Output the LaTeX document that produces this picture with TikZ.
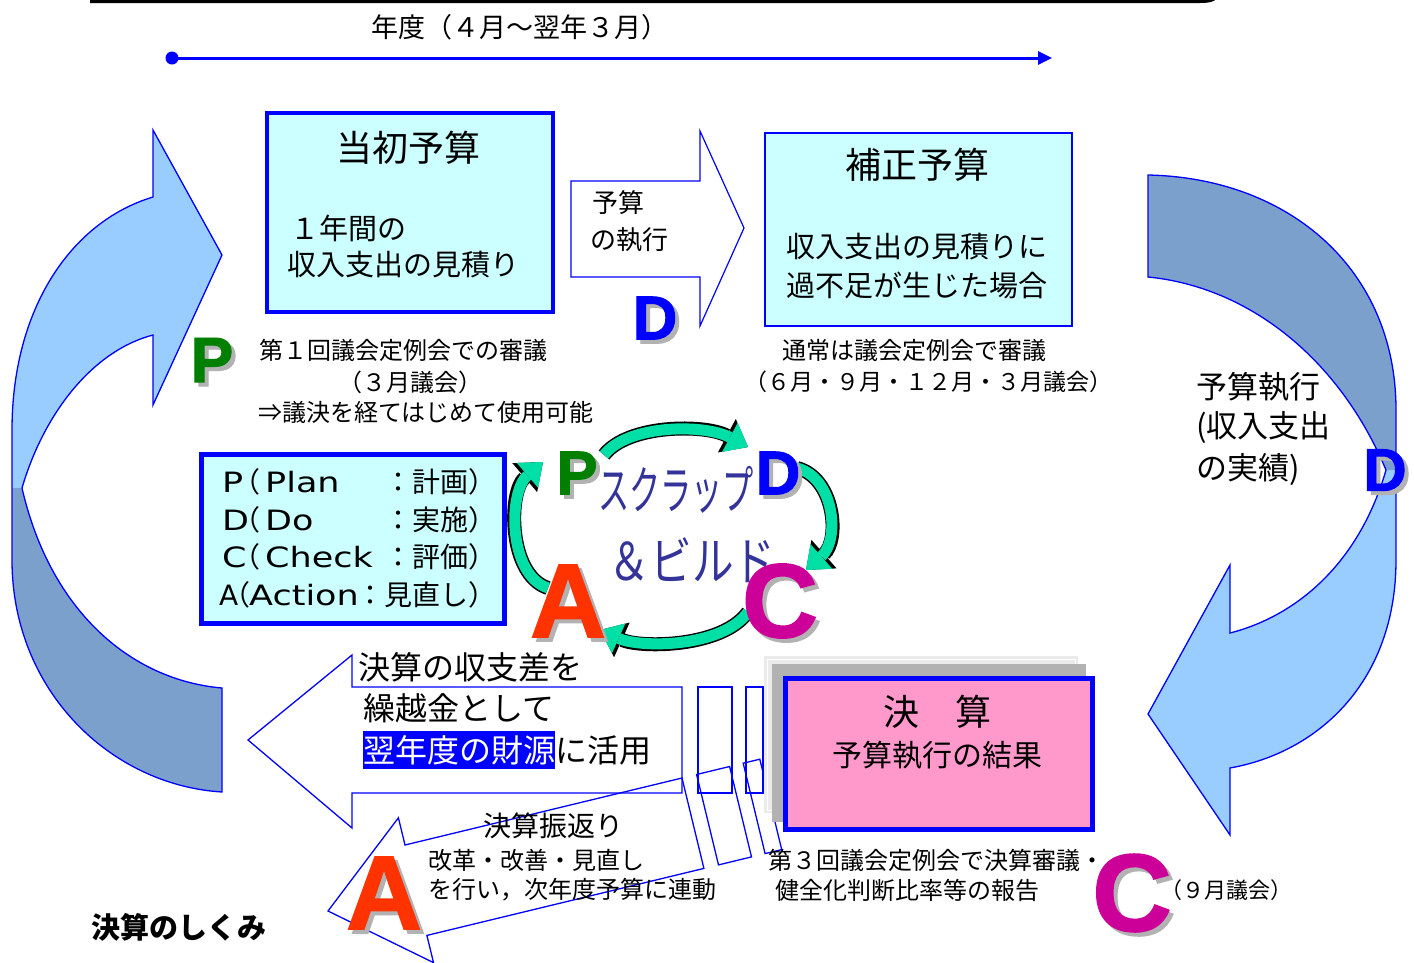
\documentclass[tikz,border=0pt]{standalone}
\usepackage{fontspec}
\setmainfont{Noto Sans CJK JP}
\newfontfamily\latb{Liberation Sans}[BoldFeatures={FakeBold=1.5}]
\newfontfamily\djv{DejaVu Sans}
\usetikzlibrary{arrows.meta,calc}
\definecolor{boxcyan}{HTML}{CCFFFF}
\definecolor{arrlight}{HTML}{99CCFF}
\definecolor{arrdark}{HTML}{7BA0CB}
\definecolor{boxpink}{HTML}{FF99CC}
\definecolor{pgreen}{HTML}{007F00}
\definecolor{dblue}{HTML}{0000FF}
\definecolor{cmag}{HTML}{CC0099}
\definecolor{ared}{HTML}{FF3300}
\definecolor{cycg}{HTML}{00E0A6}
\definecolor{sbpurple}{HTML}{333399}
\tikzset{
  fs/.style={font=\fontsize{#1}{#1}\selectfont},
  txt/.style={inner sep=0pt, anchor=west},
  ctxt/.style={inner sep=0pt},
  bigl/.style 2 args={inner sep=0pt, font=\latb\bfseries\fontsize{#1}{#1}\selectfont, text=#2},
  edge/.style={draw=dblue, line width=1.3pt},
  boxthick/.style={draw=dblue, line width=#1, fill=boxcyan, anchor=north west, inner sep=0pt},
}
\newcommand\bigletter[6]{%
  \node[bigl={#4}{#5}] (#1) at (#2,#3) {\makebox[0pt][l]{\hspace{4pt}\raisebox{-4pt}{\color{black!30}#6}}#6};
}
\newcommand\cycarrow[1]{%
  \draw[line width=14pt, black, -{Triangle[length=24pt,width=38pt,line width=0pt]}] #1;
  \draw[line width=11pt, cycg, -{Triangle[length=20.5pt,width=33pt,line width=0pt]}] #1;
}
\newcommand\wide[1]{\scalebox{1.25}[1]{\djv #1}}
\begin{document}
\begin{tikzpicture}[x=1pt,y=-1pt]
\useasboundingbox (0,0) rectangle (1414,962);
\fill[white] (0,0) rectangle (1414,962);

% top line and timeline
\draw[line width=3pt] (90,1.5) -- (1200,1.5) .. controls (1210,1.5) and (1214,0) .. (1216,-3);
\node[ctxt, fs=27] (year) at (520,27) {年度（４月～翌年３月）};
\node[circle, fill=dblue, minimum size=13pt, inner sep=0pt] (tstart) at (172,58) {};
\coordinate (tend) at (1052,58);
\draw[dblue, line width=3pt, -{Triangle[length=14pt,width=13pt]}] (tstart.center) -- (tend);

% left curved arrow
\fill[arrlight] (153,197) -- (153,130) -- (222,255) -- (153,405) -- (153,335) .. controls (95,350) and (45,410) .. (22,488) -- (12,488) -- (12,430) .. controls (12,310) and (70,222) .. (153,197) -- cycle;
\fill[arrdark] (12,488) -- (12,560) .. controls (12,690) and (110,785) .. (222,792) -- (222,688) .. controls (130,680) and (50,610) .. (22,488) -- cycle;
\draw[edge] (153,197) -- (153,130) -- (222,255) -- (153,405) -- (153,335) .. controls (95,350) and (45,410) .. (22,488) .. controls (50,610) and (130,680) .. (222,688) -- (222,792) .. controls (110,785) and (12,690) .. (12,560) -- (12,430) .. controls (12,310) and (70,222) .. (153,197) -- cycle;

% right curved arrow
\fill[arrlight] (1386,470) -- (1396,470) -- (1396,560) .. controls (1396,680) and (1320,752) .. (1230,768) -- (1230,835) -- (1148,714) -- (1230,565) -- (1230,633) .. controls (1300,615) and (1360,560) .. (1386,470) -- cycle;
\fill[arrdark] (1148,175) .. controls (1290,178) and (1396,270) .. (1396,410) -- (1396,470) -- (1386,470) .. controls (1340,360) and (1250,287) .. (1148,277) -- cycle;
\draw[edge] (1148,175) .. controls (1290,178) and (1396,270) .. (1396,410) -- (1396,560) .. controls (1396,680) and (1320,752) .. (1230,768) -- (1230,835) -- (1148,714) -- (1230,565) -- (1230,633) .. controls (1300,615) and (1360,560) .. (1386,470) .. controls (1340,360) and (1250,287) .. (1148,277) -- cycle;

% box: initial budget
\node[boxthick=4pt, minimum width=286pt, minimum height=199pt] (tosho) at (265,111) {};
\node[ctxt, fs=36] (toshoT) at (408,148) {当初予算};
\node[txt, fs=29] (tosho1) at (290,228) {１年間の};
\node[txt, fs=29] (tosho2) at (287,265) {収入支出の見積り};

% block arrow: execution
\draw[edge, line width=1.2pt, fill=white] (571,181) -- (700,181) -- (700,131) -- (744,228) -- (700,326) -- (700,277) -- (571,277) -- cycle;
\node[txt, fs=26] (exec1) at (592,203) {予算};
\node[txt, fs=26] (exec2) at (590,240) {の執行};

% box: supplementary budget
\node[boxthick=2pt, minimum width=307pt, minimum height=193pt] (hosei) at (764,132) {};
\node[ctxt, fs=36] (hoseiT) at (917,165) {補正予算};
\node[ctxt, fs=29] (hosei1) at (917,247) {収入支出の見積りに};
\node[ctxt, fs=29] (hosei2) at (917,285) {過不足が生じた場合};

% notes under top boxes
\node[txt, fs=24] (n1) at (259,350) {第１回議会定例会での審議};
\node[txt, fs=24] (n2) at (338,382) {（３月議会）};
\node[txt, fs=24] (n3) at (258,412) {⇒議決を経てはじめて使用可能};
\node[ctxt, fs=24] (n4) at (914,350) {通常は議会定例会で審議};
\node[ctxt, fs=23] (n5) at (928,382) {（６月・９月・１２月・３月議会）};

% right side text
\node[txt, fs=31] (r1) at (1196,387) {予算執行};
\node[txt, fs=31] (r2) at (1196,428) {(収入支出};
\node[txt, fs=31] (r3) at (1196,470) {の実績)};

% PDCA box
\node[boxthick=5pt, minimum width=303pt, minimum height=169pt] (pdca) at (198.5,451.5) {};
\node[txt, fs=28] (pdca1) at (222,482) {\makebox[0pt][l]{\wide{P}}\makebox[0pt][l]{\hspace{10pt}（}\makebox[0pt][l]{\hspace{43pt}\wide{Plan}}\makebox[274pt][r]{：計画）}};
\node[txt, fs=28] (pdca2) at (222,520) {\makebox[0pt][l]{\wide{D}}\makebox[0pt][l]{\hspace{10pt}（}\makebox[0pt][l]{\hspace{43pt}\wide{Do}}\makebox[274pt][r]{：実施）}};
\node[txt, fs=28] (pdca3) at (222,557) {\makebox[0pt][l]{\wide{C}}\makebox[0pt][l]{\hspace{10pt}（}\makebox[0pt][l]{\hspace{43pt}\wide{Check}}\makebox[274pt][r]{：評価）}};
\node[txt, fs=28] (pdca4) at (219,595) {\makebox[0pt][l]{\djv A}\makebox[0pt][l]{\hspace{3pt}（}\makebox[0pt][l]{\hspace{30pt}\wide{Action}}\makebox[277pt][r]{：見直し）}};

% cycle arrows
\cycarrow{(604,455) .. controls (628,424) and (705,424) .. (748,447)}
\cycarrow{(797,468) .. controls (835,478) and (840,540) .. (806,570)}
\cycarrow{(748,612) .. controls (722,648) and (640,648) .. (600,630)}
\cycarrow{(548,588) .. controls (508,575) and (508,492) .. (543,462)}
\node[ctxt, text=sbpurple, fs=52] (sb1) at (676,490) {\scalebox{0.6}[1]{スクラップ}};
\node[ctxt, text=sbpurple, fs=52] (sb2) at (692,560) {\scalebox{0.8}[1]{＆ビルド}};

% bottom big arrow
\draw[edge, fill=white] (682,687) -- (352,687) -- (352,655) -- (248,740) -- (352,828) -- (352,793) -- (682,793) -- cycle;
\draw[edge] (698,687) rectangle (732,793);
\draw[edge] (746,687) rectangle (763,793);
\node[txt, fs=32] (b1) at (358,667) {決算の収支差を};
\node[txt, fs=32] (b2) at (363,708) {繰越金として};
\node[txt, fs=32, fill=dblue, text=white, inner ysep=4pt] (b3) at (363,750) {翌年度の財源};
\node[txt, fs=32] (b4) at (b3.east) {に活用};

% tilted arrow
\draw[edge] (405,845) -- (682,778) -- (703.9,868.4) -- (426.9,935.4) -- (433.5,962.6) -- (328,911) -- (398.4,817.8) -- cycle;
\draw[edge] (696.6,774.5) -- (729.6,766.5) -- (751.5,856.9) -- (718.5,864.9) -- cycle;
\draw[edge] (743.2,763.2) -- (759.8,759.2) -- (781.7,849.6) -- (765.1,853.6) -- cycle;
\node[ctxt, fs=28] (f1) at (553,826) {決算振返り};
\node[txt, fs=24] (f2) at (428,860) {改革・改善・見直し};
\node[txt, fs=24] (f3) at (428,890) {を行い，次年度予算に連動};

% settlement box
\fill[black!8] (764,656) rectangle (1078,813);
\draw[white, line width=1pt] (767,659) rectangle (1075,810);
\fill[black!30] (772,664) rectangle (1086,822);
\node[draw=dblue, line width=5pt, fill=boxpink, anchor=north west, inner sep=0pt, minimum width=307pt, minimum height=151pt] (kessan) at (782.5,676) {};
\node[ctxt, fs=36] (kessanT) at (937,712) {決　算};
\node[ctxt, fs=30] (kessan1) at (937,755) {予算執行の結果};
\node[txt, fs=24] (k1) at (768,860) {第３回議会定例会で決算審議・};
\node[txt, fs=24] (k2) at (775,890) {健全化判断比率等の報告};
\node[txt, fs=22] (k3) at (1160,890) {（９月議会）};

% title
\node[txt, font=\bfseries\fontsize{29}{29}\selectfont] (title) at (91,927) {決算のしくみ};

% big letters
\bigletter{LP}{212}{362}{64}{pgreen}{P}
\bigletter{LD1}{655}{320}{62}{dblue}{D}
\bigletter{LD2}{1385}{472}{60}{dblue}{D}
\bigletter{LC1}{1132}{895}{110}{cmag}{C}
\bigletter{LA1}{384}{895}{105}{ared}{A}
\bigletter{LP2}{577}{475}{62}{pgreen}{P}
\bigletter{LD3}{778}{475}{62}{dblue}{D}
\bigletter{LA2}{568}{603}{105}{ared}{A}
\bigletter{LC2}{780}{603}{105}{cmag}{C}
\end{tikzpicture}
\end{document}
